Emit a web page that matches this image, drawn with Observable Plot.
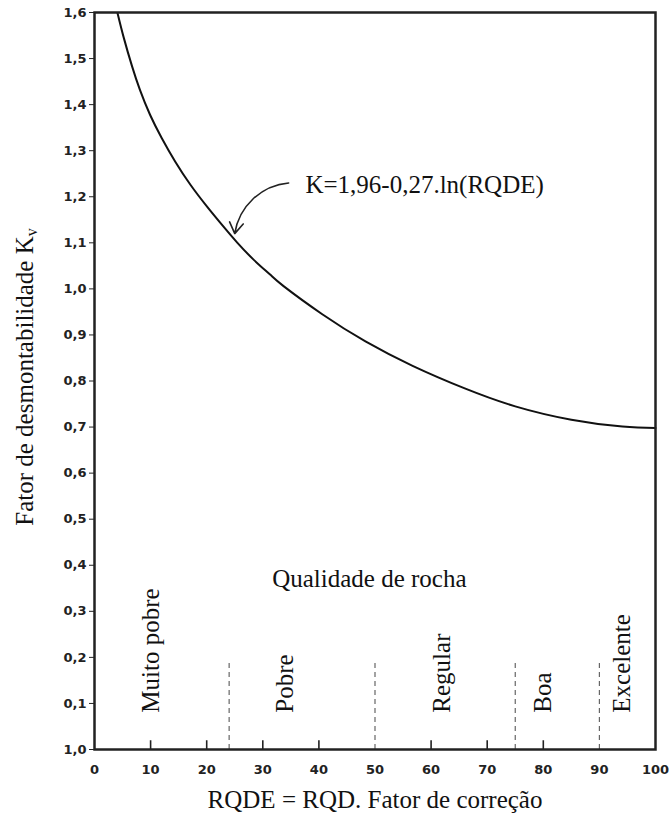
<!DOCTYPE html>
<html>
<head>
<meta charset="utf-8">
<script src="https://cdn.jsdelivr.net/npm/d3@7"></script>
<script src="https://cdn.jsdelivr.net/npm/@observablehq/plot@0.6"></script>
<style>
  html, body { margin: 0; padding: 0; background: #fff; }
  #chart svg { display: block; }
  #chart svg text.tick-label {
    font-family: 'DejaVu Sans', Verdana, sans-serif !important;
    font-size: 13px !important;
    font-weight: bold !important;
    fill: #222 !important;
  }
</style>
</head>
<body>
<div id="chart"></div>
<script>
// ---- data ----
const curveX = [4.1, 5.2, 6.7, 8.1, 9.9, 12.0, 14.4, 17.1, 20.1, 23.0, 25.4, 28.4, 31.3, 33.7, 40.6, 48.3, 56.7, 66.0, 75.0, 85.0, 94.1, 100];
const curveY = [1.599, 1.546, 1.483, 1.432, 1.378, 1.327, 1.276, 1.226, 1.178, 1.135, 1.101, 1.063, 1.031, 1.006, 0.945, 0.886, 0.833, 0.784, 0.745, 0.716, 0.701, 0.698];

const xTicks = [0, 10, 20, 30, 40, 50, 60, 70, 80, 90, 100];
const xTickMarks = [10, 20, 30, 40, 60, 70, 80];
const yTicks = [0, 0.1, 0.2, 0.3, 0.4, 0.5, 0.6, 0.7, 0.8, 0.9, 1.0, 1.1, 1.2, 1.3, 1.4, 1.5, 1.6];
const yTickLabels = ["1,0", "0,1", "0,2", "0,3", "0,4", "0,5", "0,6", "0,7", "0,8", "0,9", "1,0", "1,1", "1,2", "1,3", "1,4", "1,5", "1,6"];

const classBounds = [24, 50, 75, 90];
const classBoundTop = 0.195;
const classNames = ["Muito pobre", "Pobre", "Regular", "Boa", "Excelente"];
const classLabelX = [10, 34, 62, 80, 94];
const classLabelY = 0.08;

const groupTitle = "Qualidade de rocha";
const groupTitleX = 49, groupTitleY = 0.352;

const formulaText = "K=1,96-0,27.ln(RQDE)";
const formulaX = 37.6, formulaY = 1.209;
const arrowFrom = {x: 34.6, y: 1.23};
const arrowTo = {x: 25.0, y: 1.120};

const xLabel = "RQDE = RQD. Fator de correção";
const yLabel = "Fator de desmontabilidade K";
const yLabelSub = "v";

// ---- build ----
const curve = curveX.map((x, i) => ({x, y: curveY[i]}));
const classes = classNames.map((name, i) => ({name, x: classLabelX[i]}));

const serif = "'Liberation Serif', 'Times New Roman', serif";

const chart = Plot.plot({
  width: 670,
  height: 822,
  marginLeft: 94,
  marginRight: 15,
  marginTop: 12,
  marginBottom: 73,
  style: {background: "#fff", color: "#222"},
  x: {domain: [0, 100]},
  y: {domain: [0, 1.6]},
  marks: [
    Plot.axisY({
      ticks: yTicks,
      tickFormat: d => yTickLabels[Math.round(d * 10)],
      tickSize: 5,
      tickPadding: 3,
      label: null
    }),
    Plot.axisX({
      ticks: xTicks,
      tickFormat: d => String(d),
      tickSize: 0,
      tickPadding: 15,
      label: null
    }),
    Plot.ruleX(xTickMarks, {x: d => d, y1: 0, y2: 0.019, stroke: "#222", strokeWidth: 1.6}),
    Plot.ruleX(classBounds, {x: d => d, y1: 0, y2: classBoundTop, stroke: "#666", strokeWidth: 1.2, strokeDasharray: "5,4"}),
    Plot.line(curve, {x: "x", y: "y", curve: "natural", stroke: "#111", strokeWidth: 2}),
    Plot.text(classes, {
      x: "x", y: () => classLabelY, text: "name", rotate: -90,
      textAnchor: "start", lineAnchor: "middle",
      fontFamily: serif, fontSize: 25, fill: "#111"
    }),
    Plot.text([groupTitle], {
      x: () => groupTitleX, y: () => groupTitleY, text: d => d,
      textAnchor: "middle", lineAnchor: "bottom",
      fontFamily: serif, fontSize: 25, fill: "#111"
    }),
    Plot.text([formulaText], {
      x: () => formulaX, y: () => formulaY, text: d => d,
      textAnchor: "start", lineAnchor: "bottom",
      fontFamily: serif, fontSize: 25, fill: "#111"
    }),
    Plot.arrow([{a: arrowFrom, b: arrowTo}], {
      x1: d => d.a.x, y1: d => d.a.y, x2: d => d.b.x, y2: d => d.b.y,
      bend: -38, headLength: 12, headAngle: 65, stroke: "#222", strokeWidth: 1.6
    }),
    Plot.frame({stroke: "#222", strokeWidth: 2.5})
  ]
});

const svg = d3.select(chart);
// mark tick label texts so the stylesheet above applies to them
const tickTexts = new Set([...yTickLabels, ...xTicks.map(String)]);
svg.selectAll("text").each(function () {
  if (tickTexts.has(this.textContent.trim())) this.classList.add("tick-label");
});
// x-axis title
svg.append("text")
  .attr("x", 375).attr("y", 808)
  .attr("text-anchor", "middle")
  .attr("font-family", serif).attr("font-size", 25).attr("fill", "#111")
  .text(xLabel);
// y-axis title with subscript
const yl = svg.append("text")
  .attr("transform", "translate(33,377) rotate(-90)")
  .attr("text-anchor", "middle")
  .attr("font-family", serif).attr("font-size", 25).attr("fill", "#111");
yl.append("tspan").text(yLabel);
yl.append("tspan").attr("font-size", 16).attr("dy", 4).text(yLabelSub);

document.getElementById("chart").appendChild(chart);
</script>
</body>
</html>
